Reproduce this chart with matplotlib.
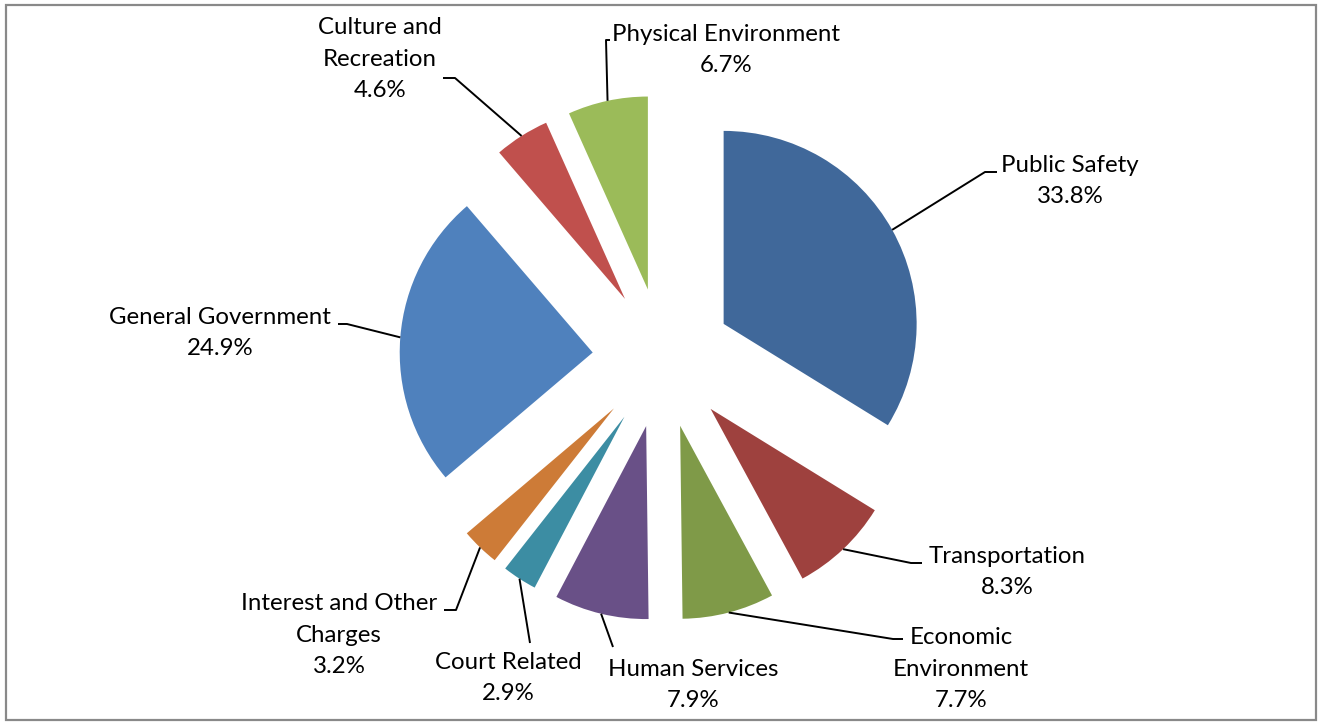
import numpy as np
import matplotlib
matplotlib.use("Agg")
import matplotlib.pyplot as plt
from matplotlib.patches import Rectangle

# expenditure shares by function, clockwise from 12 o'clock
categories = ["Public Safety", "Transportation", "Economic\nEnvironment", "Human Services",
              "Court Related", "Interest and Other\nCharges", "General Government",
              "Culture and\nRecreation", "Physical Environment"]
shares = [33.8, 8.3, 7.7, 7.9, 2.9, 3.2, 24.9, 4.6, 6.7]
colors = ["#40689A", "#9E413E", "#7F9A48", "#695087", "#3C8DA3",
          "#CD7B37", "#4F81BD", "#C0504D", "#9BBB59"]

W, H = 1320, 722
plt.rcParams["font.family"] = ["Lato", "DejaVu Sans"]

fig = plt.figure(figsize=(W / 100, H / 100), dpi=100)
ax = fig.add_axes([0, 0, 1, 1])

# pie geometry in pixel units (y up); explode is an absolute offset here
R = 193
cx, cy = 662.5, H - 358
wedges, _ = ax.pie(shares, colors=colors, startangle=90, counterclock=False,
                   radius=R, center=(cx, cy), explode=[70] * len(shares),
                   wedgeprops=dict(linewidth=0))
ax.set_xlim(0, W)
ax.set_ylim(0, H)
ax.set_aspect("equal")
ax.axis("off")

# label layout (image pixel coords, y down): text centre, elbow point, end of short tick
label_pos = [(1070, 181), (1007, 572), (961, 669), (693, 685), (508, 678),
             (339, 635), (220, 333), (380, 59), (726, 50)]
elbows = [(985, 172), (911, 563), (893, 639), (613, 647), (530, 643),
          (456, 610), (347, 324), (455, 78), (606, 40)]
ticks = [(997, 172), (922, 563), (903, 639), None, None,
         (444, 610), (338, 324), (443, 78), (610, 40)]

for w, name, val, (tx, ty), (ex, ey), tk in zip(wedges, categories, shares,
                                                  label_pos, elbows, ticks):
    ang = np.deg2rad((w.theta1 + w.theta2) / 2)
    sx = w.center[0] + R * np.cos(ang)
    sy = w.center[1] + R * np.sin(ang)
    xs = [sx, ex]
    ys = [sy, H - ey]
    if tk is not None:
        xs.append(tk[0])
        ys.append(H - tk[1])
    ax.plot(xs, ys, color="black", lw=1.4, solid_capstyle="butt")
    ax.text(tx, H - ty, f"{name}\n{val:.1f}%", ha="center", va="center",
            multialignment="center", fontsize=17.3, linespacing=1.62, color="black")

# chart area border
ax.add_patch(Rectangle((6, H - 720), 1310, 715, fill=False,
                       edgecolor="#898989", lw=1.6))

fig.savefig("out.png", dpi=100)
